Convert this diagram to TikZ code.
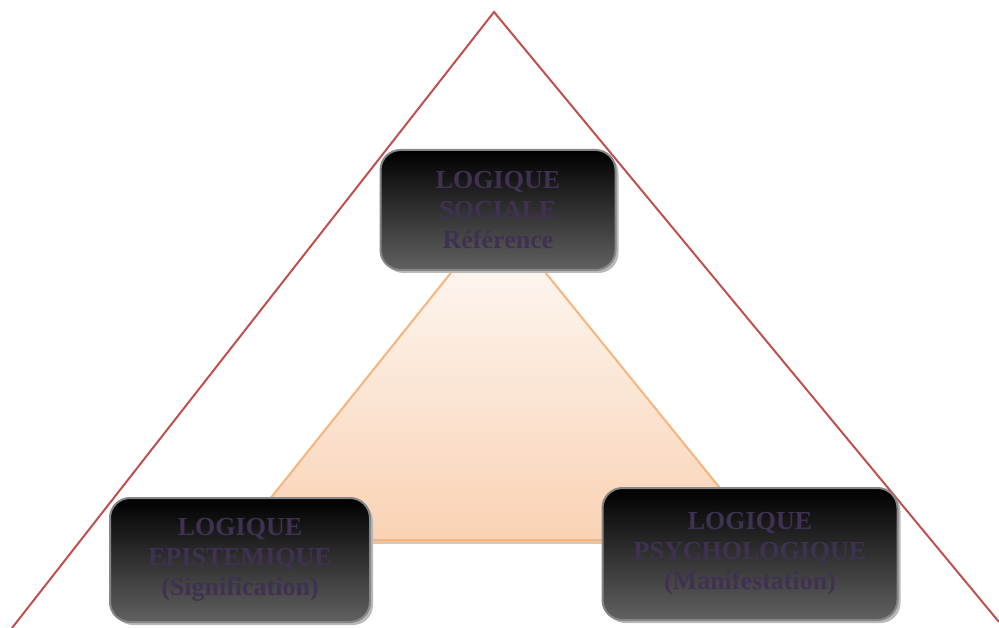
\documentclass[tikz,border=0pt]{standalone}
\usepackage{fontspec}
\setmainfont{Liberation Serif}
\usetikzlibrary{shadows}
\definecolor{logtext}{HTML}{3F3151}
\definecolor{outerline}{HTML}{C0504D}
\definecolor{innerline}{HTML}{F7B47C}
\definecolor{innertop}{HTML}{FEFCFA}
\definecolor{innerbot}{HTML}{F9D2B4}
\begin{document}
\begin{tikzpicture}[x=1pt,y=-1pt,
    logbox/.style={draw=gray!95, line width=2pt, rounded corners=20pt,
      top color=black, bottom color=black!62, align=center, text=logtext,
      font=\fontsize{26}{30}\selectfont\bfseries, inner sep=0pt,
      drop shadow={shadow xshift=3pt, shadow yshift=-3pt, fill=gray!55, opacity=1}}]
    \useasboundingbox (0,0) rectangle (999,628);
    \coordinate (apex) at (494,12);
    \coordinate (left) at (12,628);
    \coordinate (right) at (999,622);
    \draw[outerline, line width=2pt] (left) -- (apex) -- (right);
    \draw[line width=4pt, brown!45] (240,542) -- (760,542);
    \path[draw=innerline, line width=2pt, top color=innertop, bottom color=innerbot]
      (498,214) -- (762,540) -- (237,540) -- cycle;
    \node[logbox, minimum width=235, minimum height=120] (sociale) at (498,210) {LOGIQUE\\SOCIALE\\Référence};
    \node[logbox, minimum width=260, minimum height=124] (episteme) at (240,560) {LOGIQUE\\EPISTEMIQUE\\(Signification)};
    \node[logbox, minimum width=295, minimum height=132] (psycho) at (750,554) {LOGIQUE\\PSYCHOLOGIQUE\\(Manifestation)};
\end{tikzpicture}
\end{document}
